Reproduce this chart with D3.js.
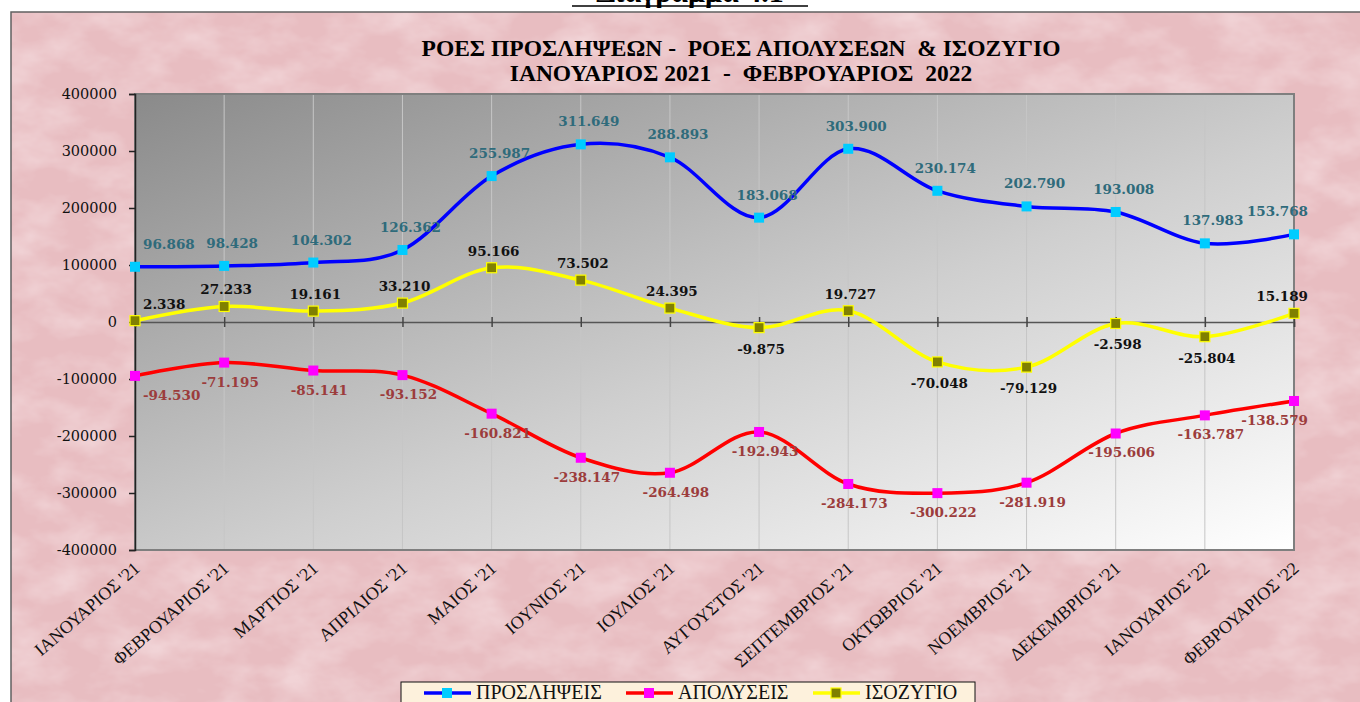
<!DOCTYPE html>
<html>
<head>
<meta charset="utf-8">
<script src="https://cdn.jsdelivr.net/npm/d3@7/dist/d3.min.js"></script>
<style>
body{margin:0;background:#fff;overflow:hidden}
</style>
</head>
<body>
<div id="chart"></div>
<script>
// data
var months = ["ΙΑΝΟΥΑΡΙΟΣ '21", "ΦΕΒΡΟΥΑΡΙΟΣ '21", "ΜΑΡΤΙΟΣ '21", "ΑΠΡΙΛΙΟΣ '21", "ΜΑΙΟΣ '21",
  "ΙΟΥΝΙΟΣ '21", "ΙΟΥΛΙΟΣ '21", "ΑΥΓΟΥΣΤΟΣ '21", "ΣΕΠΤΕΜΒΡΙΟΣ '21", "ΟΚΤΩΒΡΙΟΣ '21",
  "ΝΟΕΜΒΡΙΟΣ '21", "ΔΕΚΕΜΒΡΙΟΣ '21", "ΙΑΝΟΥΑΡΙΟΣ '22", "ΦΕΒΡΟΥΑΡΙΟΣ '22"];
var hires = [96868, 98428, 104302, 126362, 255987, 311649, 288893, 183068, 303900, 230174, 202790, 193008, 137983, 153768];
var layoffs = [-94530, -71195, -85141, -93152, -160821, -238147, -264498, -192943, -284173, -300222, -281919, -195606, -163787, -138579];
var balance = [2338, 27233, 19161, 33210, 95166, 73502, 24395, -9875, 19727, -70048, -79129, -2598, -25804, 15189];
var yTicks = [-400000, -300000, -200000, -100000, 0, 100000, 200000, 300000, 400000];
var seriesNames = ["ΠΡΟΣΛΗΨΕΙΣ", "ΑΠΟΛΥΣΕΙΣ", "ΙΣΟΖΥΓΙΟ"];
var titleLines = ["ΡΟΕΣ ΠΡΟΣΛΗΨΕΩΝ -  ΡΟΕΣ ΑΠΟΛΥΣΕΩΝ  & ΙΣΟΖΥΓΙΟ", "ΙΑΝΟΥΑΡΙΟΣ 2021  -  ΦΕΒΡΟΥΑΡΙΟΣ  2022"];

var W = 1360, H = 702;
var margin = {top: 94, right: 66, bottom: 152, left: 135},
    width = W - margin.left - margin.right,
    height = H - margin.top - margin.bottom;

var loc = d3.formatLocale({decimal: ",", thousands: ".", grouping: [3], currency: ["", "€"], minus: "-"});
var fmtLabel = loc.format(",d");
var fmtTick = loc.format("d");

var svg = d3.select("#chart").append("svg")
    .attr("width", W)
    .attr("height", H);

var defs = svg.append("defs");
var grad = defs.append("linearGradient").attr("id", "plotbg")
    .attr("x1", 0).attr("y1", 0).attr("x2", 1).attr("y2", 1);
grad.append("stop").attr("offset", "0%").attr("stop-color", "#8a8a8a");
grad.append("stop").attr("offset", "55%").attr("stop-color", "#cfcfcf");
grad.append("stop").attr("offset", "100%").attr("stop-color", "#ffffff");

var filt = defs.append("filter").attr("id", "paper")
    .attr("x", 0).attr("y", 0).attr("width", 1).attr("height", 1);
filt.append("feTurbulence").attr("type", "fractalNoise")
    .attr("baseFrequency", "0.018 0.03").attr("numOctaves", 4).attr("seed", 7);
filt.append("feColorMatrix").attr("type", "matrix")
    .attr("values", "0 0 0 0 1  0 0 0 0 0.93  0 0 0 0 0.94  0.8 0 0 0 -0.3");

// header, cut off at the top of the page
svg.append("text")
    .attr("x", 690).attr("y", 2)
    .attr("text-anchor", "middle")
    .style("font-family", "Liberation Serif")
    .style("font-weight", "bold")
    .style("font-size", "30px")
    .text("Διάγραμμα 4.1");
svg.append("line").attr("x1", 572).attr("x2", 808).attr("y1", 6).attr("y2", 6)
    .attr("stroke", "#000").attr("stroke-width", 1.5);

// chart area background
svg.append("rect")
    .attr("x", 11).attr("y", 12).attr("width", W).attr("height", H)
    .attr("fill", "#e8bdc1");
svg.append("rect")
    .attr("x", 11).attr("y", 12).attr("width", W).attr("height", H)
    .attr("filter", "url(#paper)");
svg.append("rect")
    .attr("x", 11).attr("y", 12).attr("width", W).attr("height", H)
    .attr("fill", "none").attr("stroke", "#606060").attr("stroke-width", 1.5);

// title
svg.selectAll(".title").data(titleLines).enter().append("text")
    .attr("class", "title")
    .attr("x", 741)
    .attr("y", function(d, i) { return 56 + i * 25; })
    .attr("text-anchor", "middle")
    .style("font-family", "Liberation Serif")
    .style("font-weight", "bold")
    .style("font-size", "23.5px")
    .style("white-space", "pre")
    .text(function(d) { return d; });

var g = svg.append("g")
    .attr("transform", "translate(" + margin.left + "," + margin.top + ")");

var x = d3.scalePoint().domain(months).range([0, width]).padding(0);
var y = d3.scaleLinear().domain([-400000, 400000]).range([height, 0]);

// plot area
g.append("rect").attr("width", width).attr("height", height).attr("fill", "url(#plotbg)");

// vertical grid
g.selectAll(".grid").data(months.slice(1)).enter().append("line")
    .attr("class", "grid")
    .attr("x1", function(d) { return x(d); }).attr("x2", function(d) { return x(d); })
    .attr("y1", 0).attr("y2", height)
    .attr("stroke", "#c6c6c6").attr("stroke-width", 1);

g.append("rect").attr("width", width).attr("height", height)
    .attr("fill", "none").attr("stroke", "#7f7f7f").attr("stroke-width", 2);

// y axis
var yAxis = g.append("g").call(d3.axisLeft(y).tickValues(yTicks).tickSize(6).tickPadding(12).tickFormat(fmtTick));
yAxis.select(".domain").attr("stroke", "#222").attr("stroke-width", 1.5);
yAxis.selectAll(".tick line").attr("stroke", "#222").attr("stroke-width", 1.5);
yAxis.selectAll("text")
    .style("font-family", "DejaVu Serif")
    .style("font-size", "14.5px")
    .attr("fill", "#111");

// category axis on the zero line
var xAxis = g.append("g").attr("transform", "translate(0," + y(0) + ")")
    .call(d3.axisBottom(x).tickSize(5).tickFormat(""));
xAxis.select(".domain").attr("stroke", "#555").attr("stroke-width", 1.5);
xAxis.selectAll(".tick line").attr("y1", -5).attr("stroke", "#444").attr("stroke-width", 1.5);

// rotated month labels below the plot
g.selectAll(".mlabel").data(months).enter().append("text")
    .attr("class", "mlabel")
    .attr("transform", function(d) { return "translate(" + (x(d) + 6) + "," + (height + 20) + ") rotate(-41)"; })
    .attr("text-anchor", "end")
    .style("font-family", "Liberation Serif")
    .style("font-size", "18px")
    .attr("fill", "#111")
    .text(function(d) { return d; });

var line = d3.line()
    .x(function(d, i) { return x(months[i]); })
    .y(function(d) { return y(d); })
    .curve(d3.curveCardinal.tension(0));

var last = months.length - 1;
var series = [
  {name: seriesNames[0], values: hires, stroke: "#0000ff", marker: "#00ccff", mstroke: "#00ccff", label: "#2f6b7b",
    dx: 8, dy: function(v) { return -18; }},
  {name: seriesNames[1], values: layoffs, stroke: "#ff0000", marker: "#ff00ff", mstroke: "#ff00ff", label: "#9c3c3c",
    dx: 6, dy: function(v) { return 24; }},
  {name: seriesNames[2], values: balance, stroke: "#ffff00", marker: "#808000", mstroke: "#ffff00", label: "#111",
    dx: 2, dy: function(v) { return v >= 0 ? -12 : 26; }}
];

series.forEach(function(s) {
  g.append("path").datum(s.values)
      .attr("d", line)
      .attr("fill", "none")
      .attr("stroke", s.stroke)
      .attr("stroke-width", 3.5);
});

series.forEach(function(s) {
  g.selectAll(null).data(s.values).enter().append("rect")
      .attr("x", function(d, i) { return x(months[i]) - 5; })
      .attr("y", function(d) { return y(d) - 5; })
      .attr("width", 10).attr("height", 10)
      .attr("fill", s.marker)
      .attr("stroke", s.mstroke).attr("stroke-width", s.mstroke === s.marker ? 0 : 1.2);
});

series.forEach(function(s) {
  g.selectAll(null).data(s.values).enter().append("text")
      .attr("x", function(d, i) {
        if (i === 0) return x(months[i]) + 8;
        if (i === last) return x(months[i]) + 14;
        return x(months[i]) + s.dx;
      })
      .attr("y", function(d) { return y(d) + s.dy(d); })
      .attr("text-anchor", function(d, i) { return i === 0 ? "start" : (i === last ? "end" : "middle"); })
      .style("font-family", "DejaVu Serif")
      .style("font-weight", "bold")
      .style("font-size", "13.5px")
      .attr("fill", s.label)
      .text(function(d) { return fmtLabel(d); });
});

// legend
var lg = svg.append("g").attr("transform", "translate(401,682)");
lg.append("rect").attr("width", 574).attr("height", 30)
    .attr("fill", "#fdf1dc").attr("stroke", "#111").attr("stroke-width", 1);
var lx = [23, 225, 412];
series.forEach(function(s, i) {
  var it = lg.append("g").attr("transform", "translate(" + lx[i] + ",11)");
  it.append("line").attr("x1", 0).attr("x2", 47).attr("stroke", s.stroke).attr("stroke-width", 3.5);
  it.append("rect").attr("x", 18).attr("y", -5).attr("width", 10).attr("height", 10)
      .attr("fill", s.marker).attr("stroke", s.mstroke).attr("stroke-width", s.mstroke === s.marker ? 0 : 1.2);
  it.append("text").attr("x", 52).attr("y", 6)
      .style("font-family", "Liberation Serif")
      .style("font-size", "20px")
      .attr("fill", "#111")
      .text(s.name);
});
</script>
</body>
</html>
